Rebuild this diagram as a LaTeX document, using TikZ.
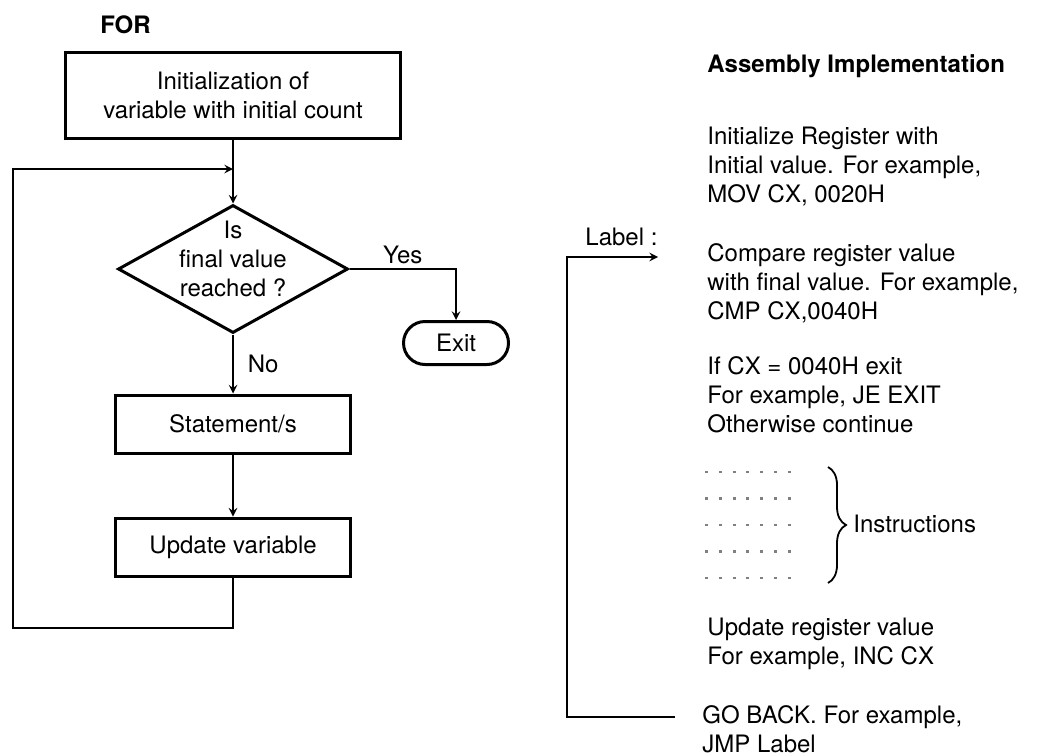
\documentclass[tikz,border=0pt]{standalone}
\usepackage{fontspec}
\setmainfont{TeX Gyre Heros}
\usetikzlibrary{shapes.geometric,shapes.misc,decorations.pathreplacing,positioning}

\tikzset{
  box/.style={draw, line width=1.5pt, inner sep=0pt, align=center},
  dia/.style={draw, diamond, line width=1.5pt, inner sep=0pt, minimum width=115pt, minimum height=64pt},
  term/.style={draw, rounded rectangle, line width=1.5pt, inner sep=0pt, minimum width=52.5pt, minimum height=21.5pt},
  flow/.style={line width=0.9pt},
  note/.style={inner sep=0pt, anchor=base west, align=left}
}

\begin{document}
\fontsize{12}{14.5}\selectfont
\begin{tikzpicture}[x=0.5pt, y=-0.5pt, >=stealth]
    \useasboundingbox (0,0) rectangle (1052,755);
    % flowchart
    \node[note, font=\bfseries] (for) at (100,33) {FOR};
    \node[box, minimum width=167.5pt, minimum height=43pt] (init) at (233,95) {Initialization of\\variable with initial count};
    \coordinate (join) at (233,169);
    \node[dia] (dec) at (233,269) {};
    \node[align=center, inner sep=0pt] (dectext) at (233,259) {Is\\final value\\reached ?};
    \node[term] (exit) at (456,343) {Exit};
    \node[box, minimum width=117.5pt, minimum height=29pt] (stmt) at (233,424) {Statement/s};
    \node[box, minimum width=117.5pt, minimum height=29pt] (upd) at (233,547) {Update variable};
    \coordinate (loopcorner) at (13,628);
    \draw[flow] (init) -- (join);
    \draw[flow, ->] (join) -- (dec.north);
    \draw[flow, ->] (dec.east) -| node[pos=0.25, above, inner sep=2pt] {Yes} (exit.north);
    \draw[flow, ->] (dec.south) -- node[right, xshift=3pt] {No} (stmt.north);
    \draw[flow, ->] (stmt) -- (upd);
    \draw[flow, ->] (upd.south) |- (loopcorner) |- (join);
    % assembly side (base = last line)
    \node[note, font=\bfseries] (asm) at (707,72) {Assembly Implementation};
    \node[note] (setreg) at (707,202) {Initialize Register with\\Initial value. For example,\\MOV CX, 0020H};
    \node[note] (lbl) at (585,245) {Label :};
    \node[note] (cmpreg) at (707,319) {Compare register value\\with final value. For example,\\CMP CX,0040H};
    \node[note] (jeexit) at (707,432) {If CX = 0040H exit\\For example, JE EXIT\\Otherwise continue};
    \foreach \r in {0,...,4}
        \draw[gray, line width=1.1pt, dash pattern=on 1.5pt off 5.4pt] (705,472+26.5*\r) -- ++(86,0);
    \coordinate (brtop) at (828,467);
    \coordinate (brbot) at (828,583);
    \draw[decorate, decoration={brace, amplitude=9pt}, line width=0.9pt] (brtop) -- (brbot);
    \node[note] (instr) at (853,532) {Instructions};
    \node[note] (increg) at (707,664) {Update register value\\For example, INC CX};
    \node[note] (goback) at (702,752) {GO BACK. For example,\\JMP Label};
    \coordinate (lbltip) at (658,257);
    \coordinate (gbtail) at (675,717);
    \coordinate (gbcorner) at (567,717);
    \draw[flow, ->] (gbtail) -- (gbcorner) |- (lbltip);
\end{tikzpicture}
\end{document}
